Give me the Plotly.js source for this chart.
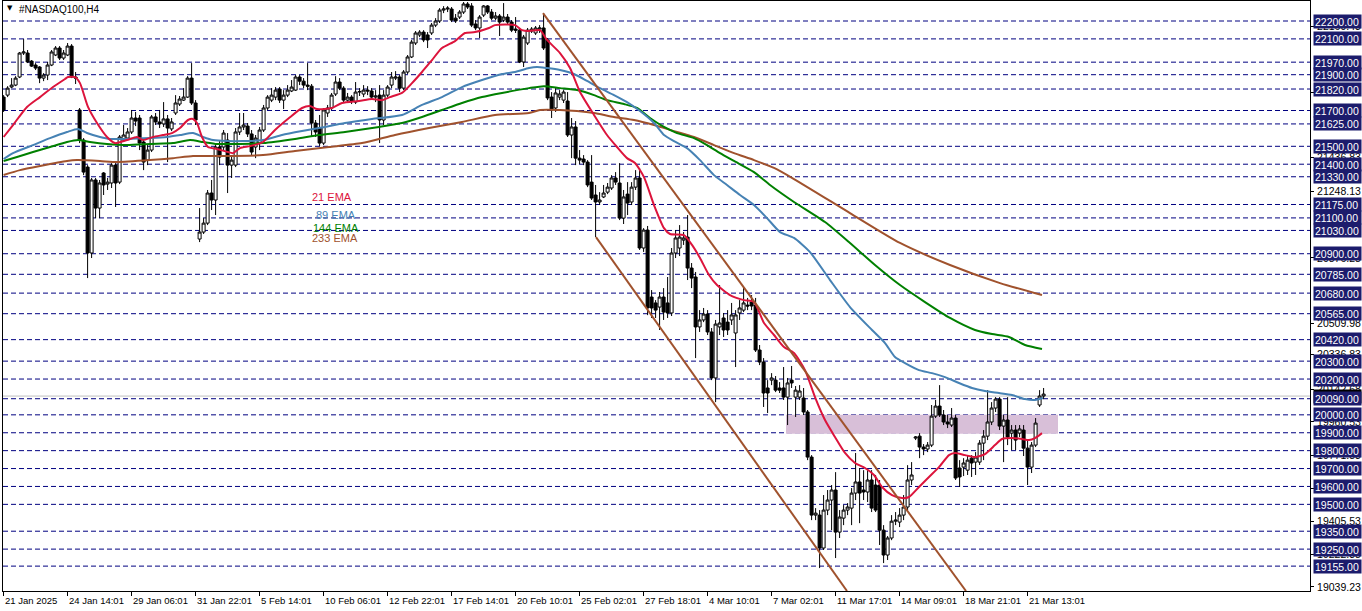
<!DOCTYPE html>
<html><head><meta charset="utf-8">
<script src="https://cdn.plot.ly/plotly-3.0.1.min.js"></script>
<style>html,body{margin:0;padding:0;background:#fff;}#chart{width:1362px;height:611px;}</style>
</head><body><div id="chart"></div>
<script>
// ---- data ----
const openP = [
21775,21786,21831,21842,21887,22021,22021,21976,21954,21943,
21881,21898,21954,22010,22049,21993,22010,22060,21887,21703,
21535,21384,20904,21312,21155,21351,21289,21295,21395,21300,
21535,21546,21580,21658,21658,21524,21423,21479,21664,21636,
21625,21653,21597,21686,21736,21758,21775,21881,21742,20982,
21021,21071,21239,21200,21496,21496,21535,21395,21395,21580,
21608,21613,21569,21496,21518,21591,21714,21758,21775,21820,
21758,21786,21809,21814,21887,21864,21842,21836,21630,21602,
21518,21686,21714,21792,21859,21825,21758,21775,21747,21803,
21792,21814,21809,21775,21786,21647,21786,21842,21881,21887,
21825,21915,21999,22077,22122,22138,22122,22133,22177,22200,
22261,22267,22267,22216,22222,22250,22295,22284,22183,22161,
22233,22284,22250,22216,22228,22205,22222,22194,22155,22149,
21971,22077,22144,22133,22155,22161,22094,21775,21714,21775,
21758,21753,21563,21608,21434,21429,21412,21300,21228,21189,
21217,21244,21267,21323,21295,21099,21233,21189,21272,21323,
20932,21032,20658,20625,20602,20658,20625,20569,20904,20932,
20976,20993,20820,20770,20491,20530,20563,20463,20206,20491,
20541,20518,20530,20457,20569,20585,20613,20630,20613,20362,
20295,20150,20194,20194,20150,20150,20099,20194,20099,20099,
20094,20016,19764,19440,19440,19256,19468,19524,19580,19345,
19423,19468,19479,19563,19625,19580,19569,19636,19608,19608,
19356,19217,19312,19406,19401,19440,19485,19636,19870,19881,
19820,19809,19831,19993,20049,19999,19960,19943,19982,19703,
19708,19691,19758,19736,19736,19842,19881,19960,20038,20088,
19937,19971,19898,19915,19898,19915,19814,19708,19831,20055,
20105];
const highP = [
21786,21836,21881,21892,22027,22099,22038,21982,21965,21948,
21909,21971,22038,22060,22060,22038,22077,22071,21915,21714,
21546,21395,21323,21323,21312,21356,21323,21406,21406,21563,
21619,21602,21703,21692,21675,21546,21507,21675,21686,21703,
21747,21675,21658,21786,21781,21825,21892,21965,21758,21155,
21099,21256,21312,21507,21535,21591,21574,21451,21602,21686,
21686,21630,21591,21563,21608,21731,21786,21825,21831,21831,
21814,21842,21870,21898,21898,21881,21965,21848,21647,21675,
21714,21731,21798,21892,21881,21836,21798,21786,21859,21825,
21842,21836,21825,21814,21842,21814,21842,21915,21920,21898,
21926,22010,22094,22144,22149,22149,22138,22189,22216,22272,
22283,22283,22278,22239,22261,22306,22306,22300,22205,22233,
22289,22289,22267,22250,22239,22300,22239,22205,22222,22161,
22122,22161,22166,22172,22177,22244,22105,21803,21825,21814,
21814,21803,21658,21641,21479,21451,21423,21451,21284,21244,
21284,21295,21339,21356,21406,21256,21300,21300,21367,21379,
21043,21055,20697,20641,20686,20708,20770,20932,21032,21060,
21021,21116,20848,20798,20585,20597,20585,20485,20530,20725,
20569,20585,20625,20585,20641,20714,20653,20669,20653,20390,
20317,20194,20233,20217,20183,20267,20206,20273,20161,20166,
20150,20027,19775,19479,19468,19552,19580,19608,19680,19468,
19496,19507,19591,19787,19703,19691,19691,19691,19664,19636,
19384,19323,19440,19457,19479,19552,19719,19736,19881,19898,
19837,19848,20055,20083,20166,20027,19999,20038,19999,19747,
19758,19775,19775,19792,19859,19915,20138,20071,20099,20099,
19999,20099,19943,19943,19943,19943,19859,19848,19982,20138,
20150];
const lowP = [
21692,21775,21825,21836,21881,22010,21965,21943,21926,21853,
21864,21870,21948,22004,21982,21982,22004,21881,21848,21518,
21339,20764,20876,21099,21099,21228,21256,21267,21161,21289,
21524,21535,21569,21613,21479,21367,21395,21468,21619,21602,
21608,21412,21585,21675,21725,21753,21770,21731,21619,20965,
21010,21060,21144,21116,21395,21479,21239,21323,21384,21563,
21591,21552,21451,21434,21479,21580,21703,21747,21758,21742,
21708,21775,21803,21809,21842,21825,21814,21552,21552,21501,
21507,21664,21703,21781,21814,21747,21742,21736,21736,21781,
21775,21786,21764,21747,21518,21619,21775,21825,21870,21803,
21814,21904,21993,22066,22110,22082,22049,22122,22166,22189,
22244,22250,22194,22189,22211,22239,22267,22166,22149,22105,
22222,22239,22205,22205,22116,22194,22183,22138,22133,21965,
21943,22066,22133,22122,22133,22038,21758,21658,21692,21758,
21742,21552,21434,21395,21401,21395,21272,21200,20993,21172,
21211,21233,21256,21284,21088,21066,21116,21172,21256,20921,
20910,20557,20541,20541,20474,20530,20541,20552,20876,20887,
20949,20753,20708,20317,20463,20518,20446,20194,20071,20446,
20435,20446,20502,20267,20530,20574,20585,20585,20351,20278,
20044,20010,20166,20127,20122,20083,19943,20150,19988,20083,
19999,19747,19412,19412,19144,19245,19440,19356,19200,19312,
19384,19440,19384,19524,19395,19524,19513,19457,19457,19273,
19172,19189,19300,19384,19373,19412,19468,19608,19859,19758,
19775,19792,19820,19982,19988,19943,19926,19932,19636,19597,
19658,19664,19653,19664,19720,19747,19859,19943,20016,19915,
19736,19831,19803,19803,19876,19770,19608,19675,19820,20044,
20088];
const closeP = [
21703,21825,21842,21881,22021,22027,21971,21948,21937,21881,
21898,21954,22027,22049,21993,22021,22060,21887,21881,21535,
21356,20904,21312,21155,21295,21284,21300,21395,21295,21552,
21563,21580,21658,21641,21518,21412,21479,21664,21636,21625,
21653,21602,21636,21742,21764,21775,21881,21742,21647,21021,
21071,21239,21200,21496,21440,21574,21395,21423,21580,21608,
21619,21569,21468,21546,21591,21714,21775,21786,21814,21758,
21786,21814,21831,21887,21864,21842,21836,21630,21580,21518,
21703,21714,21786,21859,21825,21758,21775,21753,21803,21806,
21814,21809,21775,21781,21647,21786,21831,21887,21887,21825,
21915,21999,22082,22133,22138,22094,22094,22177,22200,22261,
22267,22272,22205,22200,22250,22295,22278,22177,22161,22222,
22284,22250,22216,22228,22194,22222,22194,22149,22149,21971,
22110,22149,22155,22161,22161,22049,21770,21703,21798,21792,
21803,21563,21608,21434,21423,21412,21284,21211,21189,21200,
21239,21272,21323,21300,21099,21217,21183,21272,21323,20932,
21032,20597,20597,20585,20658,20574,20569,20904,20988,20993,
20988,20820,20764,20491,20530,20563,20463,20206,20507,20513,
20474,20474,20558,20558,20597,20625,20608,20608,20362,20295,
20122,20122,20206,20138,20138,20099,20178,20178,20138,20133,
20016,19764,19440,19451,19256,19468,19524,19580,19345,19429,
19468,19485,19563,19625,19563,19569,19636,19479,19468,19356,
19217,19312,19406,19412,19440,19485,19636,19664,19876,19820,
19809,19831,19993,20049,19999,19960,19949,19982,19647,19653,
19731,19747,19731,19764,19842,19881,19960,20038,20088,19937,
19971,19876,19915,19859,19921,19814,19708,19831,19954,20105,
20116];

// EMA curves: bar index / price pairs
const ema21X = [0,2.35,5.85,9.1,12.35,15.35,16.1,17.85,19.1,21.1,23.35,25.85,27.85,30.85,33.35,34.85,37.35,39.85,42.1,44.1,46.1,47.35,48.35,49.6,51.1,53.35,56.1,57.35,59.1,61.6,64.85,67.85,71.35,74.6,76.6,78.35,82.1,84.6,88.85,92.1,94.6,96.6,99.6,102.1,104.6,107.1,109.6,112.85,115.35,117.85,121.35,122.85,127.85,129.6,131.35,134.1,135.85,139.1,141.6,144.1,147.6,150.85,153.35,155.85,157.85,160.1,162.6,165.1,166.6,170.1,172.1,174.1,176.35,178.35,181.6,185.1,187.6,190.1,192.6,195.1,197.6,200.35,202.85,205.35,207.85,210.35,212.85,215.35,217.6,219.6,222.1,224.6,226.35,228.85,231.35,233.85,236.35,237.85,240.35,242.85,245.35,247.85,249.6,252.1,254.6,256.35,257.85,259.6];
const ema21Y = [21552,21619,21720,21775,21831,21876,21887,21887,21853,21720,21630,21552,21518,21535,21552,21535,21552,21563,21574,21602,21647,21653,21630,21552,21496,21485,21468,21462,21490,21501,21524,21591,21658,21714,21725,21708,21714,21742,21753,21764,21758,21775,21798,21853,21915,21982,22049,22088,22133,22138,22161,22177,22177,22149,22144,22149,22094,22021,21937,21803,21675,21563,21496,21434,21407,21328,21172,21043,21010,21004,20949,20876,20781,20725,20669,20641,20630,20513,20446,20379,20345,20250,20099,19971,19876,19787,19731,19703,19664,19597,19552,19535,19541,19597,19653,19708,19775,19787,19775,19764,19781,19831,19865,19870,19865,19859,19870,19898];
const ema89X = [0,2.35,7.35,11.6,15.85,18.6,20.85,24.1,26.6,30.85,36.6,40.85,44.1,47.35,49.85,52.35,55.85,59.85,64.85,69.6,74.6,78.85,85.35,92.1,99.6,104.6,109.6,114.6,119.6,124.6,127.85,131.35,133.35,135.85,139.1,142.6,145.85,149.1,152.6,155.85,159.1,162.6,165.1,167.6,170.85,174.1,177.6,180.85,184.1,187.6,190.85,194.1,197.6,201.6,206.6,211.6,217.1,220.35,222.85,225.35,228.85,232.1,235.35,238.85,242.1,245.35,248.85,252.1,255.35,257.85,259.85];
const ema89Y = [21429,21462,21507,21546,21580,21597,21574,21552,21541,21541,21546,21552,21563,21574,21552,21535,21529,21529,21535,21563,21585,21602,21630,21653,21675,21731,21775,21831,21870,21904,21915,21937,21943,21937,21926,21904,21865,21825,21786,21747,21697,21630,21563,21529,21490,21423,21339,21284,21228,21172,21099,21021,20988,20909,20753,20602,20474,20401,20323,20289,20250,20233,20211,20178,20150,20133,20122,20111,20088,20083,20094];
const ema144X = [0,3.35,7.35,11.6,15.85,18.6,21.6,25.85,30.85,36.6,42.35,46.6,49.85,53.35,57.35,64.85,72.85,78.85,85.35,93.85,99.6,104.6,109.6,114.6,119.6,124.6,131.35,135.1,139.1,143.35,147.6,150.85,155.1,158.35,161.6,165.1,168.35,172.6,175.85,179.1,182.6,187.6,191.6,197.6,205.35,211.6,217.85,224.1,230.35,236.6,242.85,247.1,251.35,255.35,259.6];
const ema144Y = [21418,21440,21468,21496,21524,21535,21524,21513,21507,21513,21518,21535,21524,21513,21513,21518,21541,21563,21580,21608,21630,21664,21703,21742,21775,21798,21825,21836,21825,21814,21786,21758,21736,21714,21658,21608,21574,21546,21507,21462,21418,21356,21284,21189,21077,20960,20837,20725,20630,20541,20474,20451,20435,20390,20368];
const ema233X = [0,4.1,9.1,15.85,18.35,24.1,28.35,36.6,42.35,47.35,53.35,64.85,72.85,81.35,89.6,97.85,106.35,114.6,122.85,131.35,134.1,139.1,143.35,147.6,152.6,157.6,162.6,167.6,172.6,177.6,182.6,187.6,192.6,197.6,211.6,224.1,236.6,249.1,259.6];
const ema233Y = [21340,21367,21390,21418,21423,21418,21412,21423,21434,21446,21446,21451,21474,21496,21518,21563,21602,21636,21675,21686,21703,21703,21697,21686,21664,21647,21619,21585,21552,21507,21462,21423,21379,21317,21127,20960,20837,20736,20669];

// channel trend lines (bar index / price)
const upperChX = [134.85, 240.6], upperChY = [22244, 19016];
const lowerChX = [148.1, 210.85], lowerChY = [20993, 19016];
// rectangle zone
const zoneX = [195.6, 263.6], zoneY = [19895, 20000];
// horizontal levels
const levels = [22200,22100,21970,21900,21820,21700,21625,21500,21400,21330,21175,21100,21030,20900,20785,20680,20565,20420,20300,20200,20090,20000,19900,19800,19700,19600,19500,19350,19250,19155];
const scaleTicks = [19039.23,19222.38,19405.53,19588.68,19771.83,19960.53,20142.68,20336.83,20509.98,20876.28,21248.13,21436.83,21803.13,22169.43];
const bidPrice = 20105;
const timeTickIdx = [0,16,32,48,64,80,96,112,128,144,160,176,192,208,224,240,256];
const timeTickText = ["21 Jan 2025","24 Jan 14:01","29 Jan 06:01","31 Jan 22:01","5 Feb 14:01","10 Feb 06:01","12 Feb 22:01","17 Feb 14:01","20 Feb 10:01","25 Feb 02:01","27 Feb 18:01","4 Mar 10:01","7 Mar 02:01","11 Mar 17:01","14 Mar 09:01","18 Mar 21:01","21 Mar 13:01"];
const emaNames = ["21 EMA","89 EMA","144 EMA","233 EMA"];
const emaColors = ["#DC143C","#4682B4","#008000","#A0522D"];

// ---- layout helpers ----
const L = 3, R = 52, T = 1, B = 20, W = 1362, H = 611;
const pw = W - L - R, ph = H - T - B;
const px2x = p => (p - L) / pw;
const py2y = p => (H - B - p) / ph;
const FONT = "Liberation Sans, Arial, sans-serif";

const idx = openP.map((_, i) => i);
const traces = [];
traces.push({
  type: 'candlestick', x: idx, open: openP, high: highP, low: lowP, close: closeP,
  increasing: {line: {color: '#000', width: 1}, fillcolor: '#fff'},
  decreasing: {line: {color: '#000', width: 1}, fillcolor: '#000'},
  whiskerwidth: 0, hoverinfo: 'skip', showlegend: false
});
const emaXs = [ema21X, ema89X, ema144X, ema233X];
const emaYs = [ema21Y, ema89Y, ema144Y, ema233Y];
for (let k = 3; k >= 0; k--) {
  traces.push({type: 'scatter', mode: 'lines', x: emaXs[k], y: emaYs[k],
    line: {color: emaColors[k], width: 2, shape: 'spline', smoothing: 0.6}, hoverinfo: 'skip', showlegend: false});
}
[[upperChX, upperChY], [lowerChX, lowerChY]].forEach(([xs, ys]) => {
  traces.push({type: 'scatter', mode: 'lines', x: xs, y: ys,
    line: {color: '#A0522D', width: 2}, hoverinfo: 'skip', showlegend: false});
});

const shapes = [];
shapes.push({type: 'rect', xref: 'x', yref: 'y', x0: zoneX[0], x1: zoneX[1], y0: zoneY[0], y1: zoneY[1],
  fillcolor: '#D8BFD8', line: {width: 0}, layer: 'below'});
shapes.push({type: 'line', xref: 'paper', yref: 'y', x0: 0, x1: 1, y0: bidPrice, y1: bidPrice,
  line: {color: '#C0C0C0', width: 1}, layer: 'below'});
levels.forEach(v => shapes.push({type: 'line', xref: 'paper', yref: 'y', x0: 0, x1: 1, y0: v, y1: v,
  line: {color: '#000080', width: 1, dash: '5px,3px'}, layer: 'below'}));

const annotations = [];
// current bid price label (mostly covered by the level box below it)
annotations.push({xref: 'paper', yref: 'y', x: px2x(1313), y: bidPrice, xanchor: 'left', yanchor: 'middle',
  text: bidPrice.toFixed(2), showarrow: false, bgcolor: '#000', borderpad: 1, width: 45, height: 11, align: 'left',
  font: {family: FONT, size: 10.5, color: '#fff'}});
levels.forEach(v => annotations.push({xref: 'paper', yref: 'y', x: px2x(1313), y: v, xanchor: 'left', yanchor: 'middle',
  text: v.toFixed(2), showarrow: false, bgcolor: '#1C1C6C', borderpad: 1, width: 45, height: 11, align: 'left',
  font: {family: FONT, size: 10.5, color: '#fff'}}));
timeTickIdx.forEach((t, k) => annotations.push({xref: 'x', yref: 'paper', x: t, y: 0, xanchor: 'left', yanchor: 'top',
  xshift: -1, yshift: -2, text: timeTickText[k], showarrow: false, font: {family: FONT, size: 9.5, color: '#000'}}));
annotations.push({xref: 'paper', yref: 'paper', x: px2x(5), y: py2y(8), xanchor: 'left', yanchor: 'middle',
  text: '▼', showarrow: false, font: {family: 'DejaVu Sans', size: 7, color: '#000'}});
annotations.push({xref: 'paper', yref: 'paper', x: px2x(17), y: py2y(9), xanchor: 'left', yanchor: 'middle',
  text: '#NASDAQ100,H4', showarrow: false, font: {family: FONT, size: 10, color: '#000'}});
const legPos = [[332, 197], [336, 215], [335.5, 228], [334.5, 238]];
emaNames.forEach((n, k) => annotations.push({xref: 'paper', yref: 'paper', x: px2x(legPos[k][0]), y: py2y(legPos[k][1]),
  xanchor: 'center', yanchor: 'middle', text: n, showarrow: false, font: {family: FONT, size: 11, color: emaColors[k]}}));

const layout = {
  width: W, height: H, margin: {l: L, r: R, t: T, b: B, pad: 0},
  paper_bgcolor: '#fff', plot_bgcolor: '#fff', showlegend: false,
  boxgap: 0.25, boxgroupgap: 0,
  xaxis: {range: [-0.15, 326.6], rangeslider: {visible: false}, showgrid: false, zeroline: false,
    showline: true, mirror: true, linecolor: '#000', linewidth: 1,
    tickmode: 'array', tickvals: timeTickIdx, ticks: 'outside', ticklen: 4, tickcolor: '#000', showticklabels: false},
  yaxis: {side: 'right', range: [19016, 22311.7], showgrid: false, zeroline: false,
    showline: true, mirror: true, linecolor: '#000', linewidth: 1,
    tickmode: 'array', tickvals: scaleTicks, ticktext: scaleTicks.map(v => v.toFixed(2)),
    ticks: 'outside', ticklen: 3, tickcolor: '#000', ticklabelstandoff: 1,
    tickfont: {family: FONT, size: 10.5, color: '#000'}},
  shapes: shapes, annotations: annotations
};
Plotly.newPlot('chart', traces, layout, {staticPlot: true, displayModeBar: false});
</script></body></html>
